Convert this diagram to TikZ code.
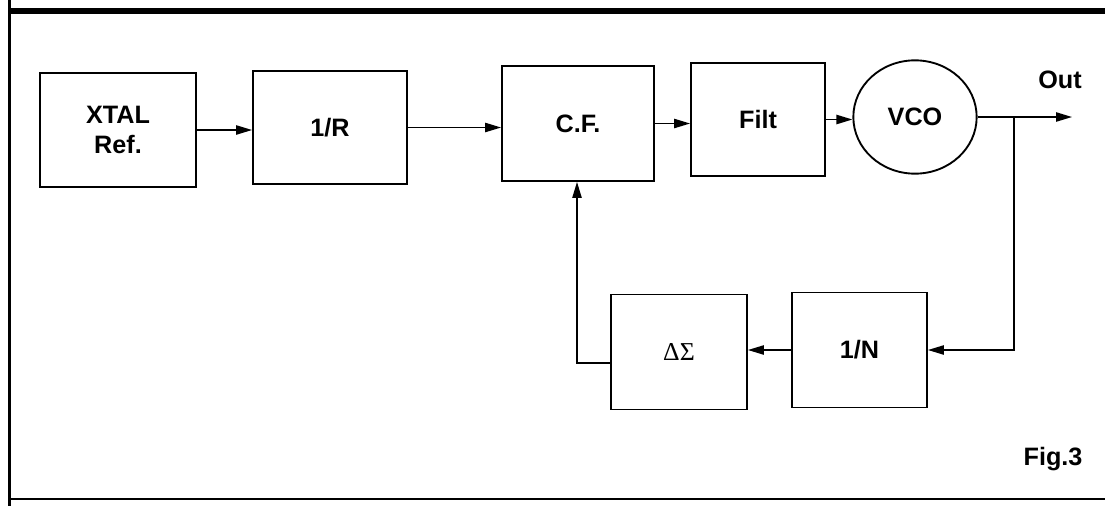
\documentclass[tikz,border=0pt]{standalone}
\usepackage{fontspec}
\setmainfont{Liberation Serif}
\setsansfont{Liberation Sans}
\usetikzlibrary{arrows.meta,positioning,shapes.geometric}
\tikzset{
  box/.style={draw, rectangle, line width=1.6pt, align=center, inner sep=0pt, font=\sffamily\bfseries\fontsize{21.5}{25}\selectfont},
  vbox/.style={draw, ellipse, line width=1.6pt, inner sep=0pt, minimum width=37mm, minimum height=34mm, font=\sffamily\bfseries\fontsize{21.5}{25}\selectfont},
  arr/.style={-{Triangle[length=4.8mm,width=2.8mm]}, line width=1.2pt},
  wire/.style={line width=1.2pt},
  lbl/.style={font=\sffamily\bfseries\fontsize{21.5}{25}\selectfont, inner sep=0pt},
}

\begin{document}
\begin{tikzpicture}[x=0.3mm, y=-0.3mm]
\useasboundingbox (0,0) rectangle (1105,506);
% frame
\draw[line width=1.6mm] (9,11) -- (1105,11);
\draw[line width=0.9mm] (9,0) -- (9,506);
\draw[line width=0.8mm] (9,499) -- (1105,499);
% forward path
\node[box, minimum width=46.8mm, minimum height=34.2mm] (xtal) at (118,130) {XTAL\\Ref.};
\node[box, minimum width=46.2mm, minimum height=33.9mm] (r) at (330,127.5) {1/R};
\node[box, minimum width=45.6mm, minimum height=34.5mm] (cf) at (578,123.5) {C.F.};
\node[box, minimum width=40.2mm, minimum height=33.9mm] (filt) at (758,119.5) {Filt};
\node[vbox] (vco) at (915,117) {VCO};
% feedback path
\node[box, minimum width=40.8mm, minimum height=34.5mm, font=\rmfamily\fontsize{22}{25}\selectfont] (ds) at (679,352) {ΔΣ};
\node[box, minimum width=40.5mm, minimum height=34.5mm] (n) at (859.5,350) {1/N};
\coordinate (tap) at (1014,117);
\coordinate (out) at (1072,117);
\coordinate (lp) at (577,363);
\draw[arr] (xtal.east) -- (xtal.east -| r.west);
\draw[arr] (r.east) -- (r.east -| cf.west);
\draw[arr] (cf.east) -- (cf.east -| filt.west);
\draw[arr] (filt.east) -- (filt.east -| vco.west);
\draw[wire] (vco.east) -- (tap);
\draw[arr] (tap) -- (out);
\draw[arr] (tap) |- (n.east);
\draw[arr] (n.west) -- (n.west -| ds.east);
\draw[arr] (ds.west |- lp) -- (lp) -- (lp |- cf.south);
% labels
\node[lbl] (outlbl) at (1060,80) {Out};
\node[lbl] (fig) at (1053,459) {Fig.3};
\end{tikzpicture}
\end{document}
